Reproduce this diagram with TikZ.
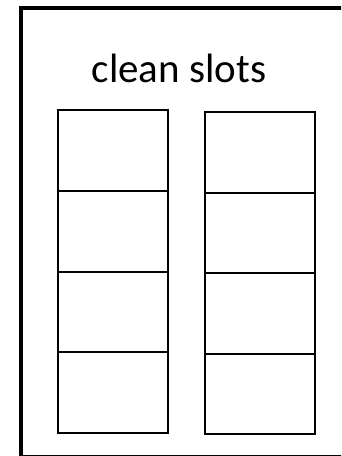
\documentclass[tikz,border=0pt]{standalone}
\usepackage{fontspec}
\setmainfont{Carlito}
\begin{document}
\begin{tikzpicture}[x=1pt,y=-1pt,
  frame/.style={draw=black, line width=4pt},
  slot/.style={draw=black, line width=2pt, anchor=north west, inner sep=0pt, minimum width=110pt},
  lslot/.style={slot, minimum height=80.75pt},
  rslot/.style={slot, minimum height=80.5pt},
  title/.style={font=\fontsize{41}{48}\selectfont, anchor=base, inner sep=0pt}]
\useasboundingbox (0,0) rectangle (341,456);
\clip (0,0) rectangle (341,456);
\draw[frame] (21,7.5) rectangle (345,456.5);
\node[title] (t) at (179,82) {clean slots};
\node[lslot] (l1) at (57,109) {};
\node[lslot] (l2) at (57,189.75) {};
\node[lslot] (l3) at (57,270.5) {};
\node[lslot] (l4) at (57,351.25) {};
\node[rslot] (r1) at (204,111) {};
\node[rslot] (r2) at (204,191.5) {};
\node[rslot] (r3) at (204,272) {};
\node[rslot] (r4) at (204,352.5) {};
\end{tikzpicture}
\end{document}
